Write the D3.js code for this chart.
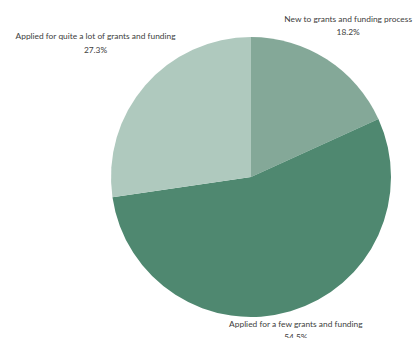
<!DOCTYPE html>
<html>
<head>
<meta charset="utf-8">
<script src="https://cdn.jsdelivr.net/npm/d3@7.9.0/dist/d3.min.js"></script>
<style>
  body { margin: 0; background: #fff; }
  svg { display: block; }
  .label { font-family: Lato, "Open Sans", sans-serif; font-size: 8.4px; fill: #404040; }
</style>
</head>
<body>
<svg id="chart" width="414" height="338"></svg>
<script>
const categories = [
  'New to grants and funding process',
  'Applied for a few grants and funding',
  'Applied for quite a lot of grants and funding',
];
const shares = [18.2, 54.5, 27.3];
const sliceColors = ['#84a898', '#4f8870', '#afc9be'];

const cx = 251;
const cy = 177;
const radius = 140;
const labelGap = 3.5;
const lineHeight = 13.5;

const svg = d3.select('#chart');
const g = svg.append('g').attr('transform', `translate(${cx},${cy})`);

const data = categories.map((label, i) => ({ label, value: shares[i], color: sliceColors[i] }));
const pie = d3.pie().value((d) => d.value).sort(null);
const arc = d3.arc().innerRadius(0).outerRadius(radius);
const arcData = pie(data);

g.selectAll('path')
  .data(arcData)
  .join('path')
  .attr('d', arc)
  .attr('fill', (d) => d.data.color);

// labels sit outside the slice, nearest box corner just off the rim
const labels = g.selectAll('text.label')
  .data(arcData)
  .join('text')
  .attr('class', 'label')
  .attr('text-anchor', 'middle');

labels.append('tspan').attr('x', 0).attr('dy', 0).text((d) => d.data.label);
labels.append('tspan').attr('x', 0).attr('dy', lineHeight).text((d) => `${d.data.value.toFixed(1)}%`);

labels.each(function (d) {
  const box = this.getBBox();
  const mid = (d.startAngle + d.endAngle) / 2;
  const ux = Math.sin(mid);
  const uy = -Math.cos(mid);
  const target = radius + labelGap;
  const cornerDist = (dist) => {
    const bx = dist * ux - Math.sign(ux) * box.width / 2;
    const by = dist * uy - Math.sign(uy) * box.height / 2;
    return Math.hypot(bx, by);
  };
  let lo = 0;
  let hi = radius * 3;
  for (let i = 0; i < 60; i++) {
    const m = (lo + hi) / 2;
    if (cornerDist(m) < target) lo = m; else hi = m;
  }
  const dx = lo * ux - (box.x + box.width / 2);
  const dy = lo * uy - (box.y + box.height / 2);
  d3.select(this).attr('transform', `translate(${dx},${dy})`);
});
</script>
</body>
</html>
